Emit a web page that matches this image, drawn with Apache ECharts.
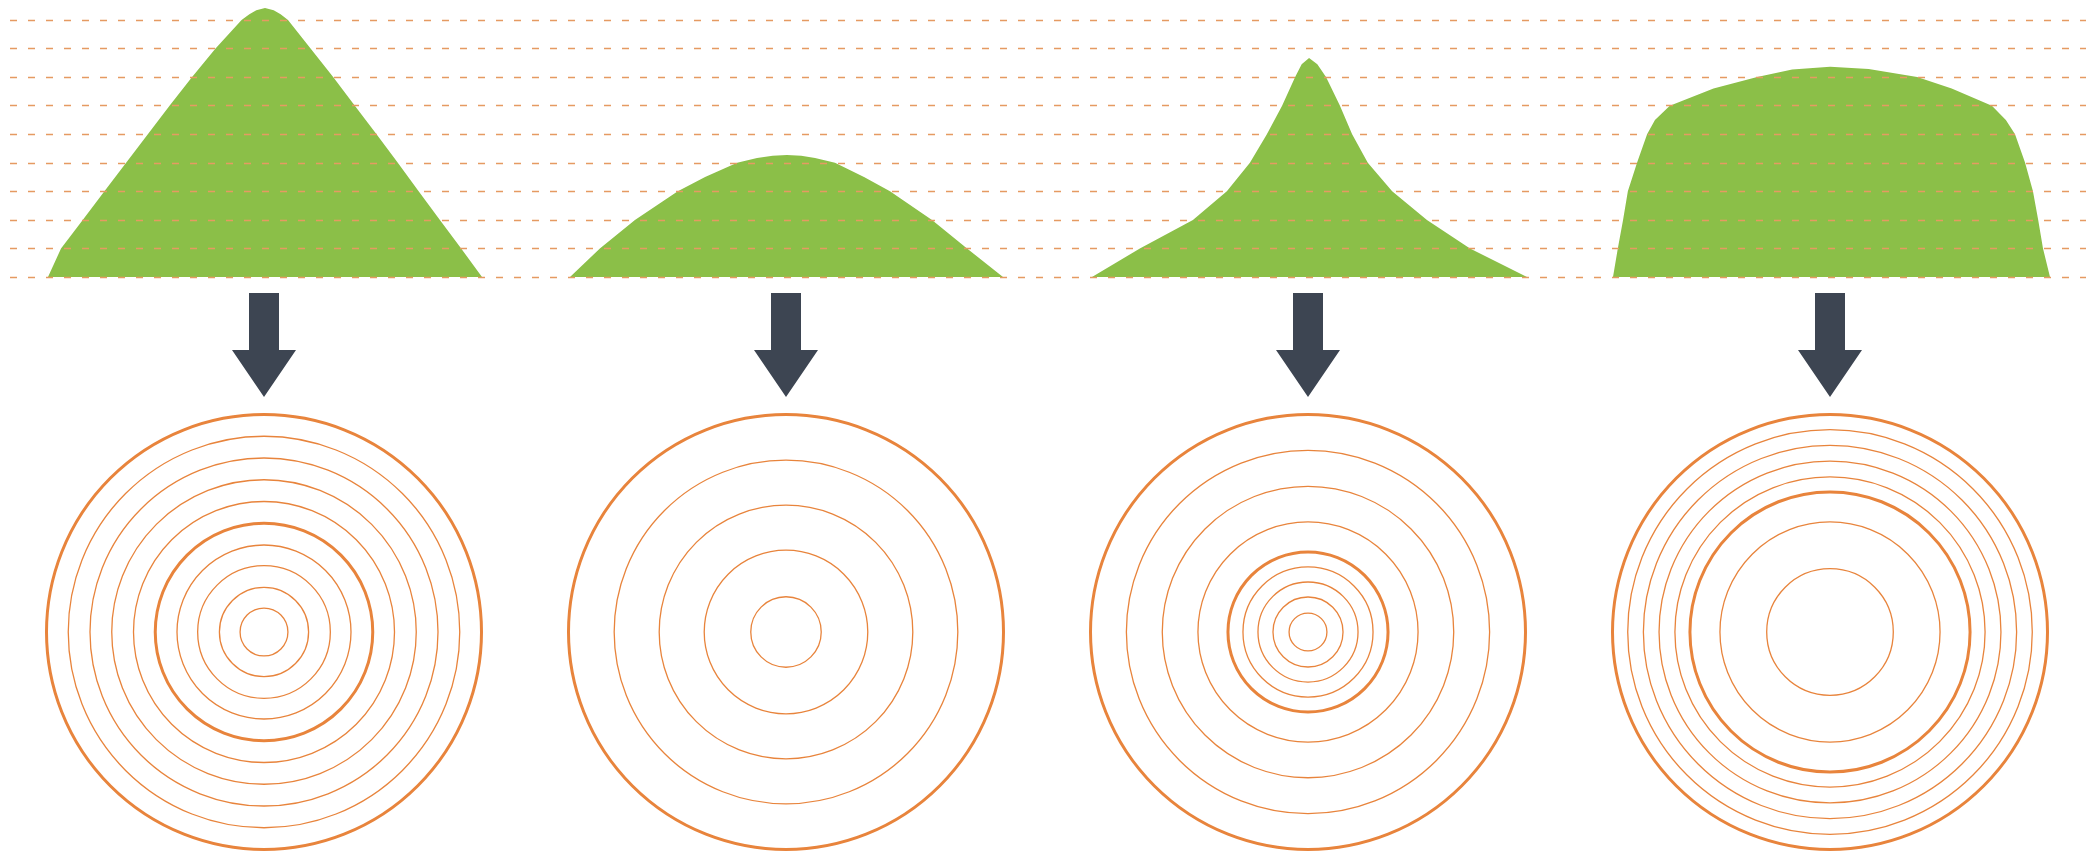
<!DOCTYPE html>
<html>
<head>
<meta charset="utf-8">
<script src="https://cdn.jsdelivr.net/npm/echarts@6/dist/echarts.min.js"></script>
<style>
  html, body { margin: 0; padding: 0; background: #ffffff; }
  #chart { width: 2086px; height: 851px; }
</style>
</head>
<body>
<div id="chart"></div>
<script>
// ---- Distribution shapes: [position across base (0-100), height in guide-line units] ----
const shapeA = [[0,0],[3.0,1],[8.0,2],[13.0,3],[18.0,4],[23.0,5],[28.0,6],[33.2,7],[38.6,8],[44.6,9],[46.4,9.2],[48.0,9.34],[50,9.42],[52.0,9.34],[53.6,9.2],[55.3,9],[60.5,8],[65.7,7],[70.7,6],[75.7,5],[80.6,4],[85.4,3],[90.3,2],[95.2,1],[100,0]];
const shapeB = [[0,0],[6.9,1],[15.0,2],[24.9,3],[31.2,3.5],[38.6,4],[43.2,4.17],[46.8,4.25],[50.1,4.27],[53.4,4.25],[56.6,4.17],[61.2,4],[67.9,3.5],[73.9,3],[83.6,2],[91.7,1],[100,0]];
const shapeC = [[0,0],[11.0,1],[23.2,2],[31.0,3],[36.3,4],[40.2,5],[43.7,6],[46.7,7],[48.2,7.45],[49.9,7.67],[51.8,7.45],[53.8,7],[57.0,6],[59.8,5],[63.4,4],[69.0,3],[77.0,2],[86.9,1],[100,0]];
const shapeD = [[0,0],[1.1,1],[2.3,2],[3.4,3],[5.5,4],[7.8,5],[9.6,5.5],[13.0,6],[23.0,6.6],[33.0,7],[41.0,7.27],[49.7,7.36],[58.5,7.28],[69.6,7],[77.5,6.6],[86.7,6],[89.9,5.5],[92.0,5],[94.3,4],[96.1,3],[97.3,2],[98.4,1],[100,0]];

// ---- Ring radii (outer ring = 10) and which rings are drawn heavy ----
const ringsA = [10, 9, 8, 7, 6, 5, 4, 3.05, 2.05, 1.1];
const thickA = [10, 5];
const ringsB = [10, 7.9, 5.83, 3.76, 1.62];
const thickB = [10];
const ringsC = [10, 8.35, 6.7, 5.06, 3.68, 2.99, 2.3, 1.61, 0.87];
const thickC = [10, 3.68];
const ringsD = [10, 9.3, 8.58, 7.86, 7.13, 6.44, 5.06, 2.91];
const thickD = [10, 6.44];

// ---- Guide lines (height levels) ----
const guideMin = 0;
const guideMax = 9;

const shapes = [shapeA, shapeB, shapeC, shapeD];
const rings = [ringsA, ringsB, ringsC, ringsD];
const thicks = [thickA, thickB, thickC, thickD];

// layout
const panelCenters = [264, 786, 1308, 1830];
const baseLefts = [48, 570, 1092, 1613];
const baseWidths = [434, 433, 435, 437];
const baseY = 277;            // pixel of level 0
const unitPx = 28.556;        // px per guide level
const ringR = 217.5;          // outer ring pixel radius
const ringCY = 632;

const GREEN = '#8bbf48';
const ORANGE = '#e8843c';
const DASH = '#e59a62';
const ARROW = '#3d4552';

const grids = [];
const xAxes = [];
const yAxes = [];
const series = [];

// grid 0: guide lines across whole width
grids.push({ left: 10, right: 0, top: baseY - guideMax * unitPx, bottom: 851 - baseY });
xAxes.push({ gridIndex: 0, type: 'value', min: 0, max: 1, show: false });
yAxes.push({
  gridIndex: 0, type: 'value', min: guideMin, max: guideMax, interval: 1, z: 6,
  axisLine: { show: false }, axisTick: { show: false }, axisLabel: { show: false },
  splitLine: { show: true, lineStyle: { color: DASH, width: 1.4, type: [7, 11] } }
});

const shapeTopVal = 9.5;
shapes.forEach((s, i) => {
  const gi = grids.length;
  grids.push({ left: baseLefts[i], width: baseWidths[i], top: baseY - shapeTopVal * unitPx, bottom: 851 - baseY });
  xAxes.push({ gridIndex: gi, type: 'value', min: 0, max: 100, show: false });
  yAxes.push({ gridIndex: gi, type: 'value', min: 0, max: shapeTopVal, show: false, splitLine: { show: false } });
  series.push({
    type: 'line', xAxisIndex: gi, yAxisIndex: gi, data: s,
    smooth: false, showSymbol: false, symbol: 'none', silent: true,
    lineStyle: { width: 0, color: GREEN }, areaStyle: { color: GREEN, opacity: 1 }, z: 2
  });
});

const arrowPath = 'path://M17,0 L47,0 L47,57 L64,57 L32,104 L0,57 L17,57 Z';

rings.forEach((rs, i) => {
  const gi = grids.length;
  grids.push({ left: panelCenters[i] - ringR, width: 2 * ringR, top: ringCY - ringR, height: 2 * ringR });
  xAxes.push({ gridIndex: gi, type: 'value', min: -10, max: 10, show: false });
  yAxes.push({ gridIndex: gi, type: 'value', min: -10, max: 10, show: false, splitLine: { show: false } });
  const th = thicks[i];
  series.push({
    type: 'custom', xAxisIndex: gi, yAxisIndex: gi, silent: true, clip: false,
    data: rs.map(r => [r, th.includes(r) ? 1 : 0]),
    renderItem: function (params, api) {
      const r = api.value(0);
      const heavy = api.value(1) === 1;
      const c = api.coord([0, 0]);
      const sz = api.size([r, r]);
      return {
        type: 'circle',
        shape: { cx: c[0], cy: c[1], r: sz[0] },
        style: { fill: 'none', stroke: ORANGE, lineWidth: heavy ? 3 : 1.3 }
      };
    }
  });
  series.push({
    type: 'scatter', xAxisIndex: gi, yAxisIndex: gi, silent: true, clip: false,
    data: [[0, 13.2]], symbol: arrowPath, symbolSize: [64, 104],
    itemStyle: { color: ARROW, opacity: 1 }
  });
});

const chart = echarts.init(document.getElementById('chart'), null, { renderer: 'canvas' });
chart.setOption({
  backgroundColor: '#ffffff',
  animation: false,
  grid: grids,
  xAxis: xAxes,
  yAxis: yAxes,
  series: series
});
</script>
</body>
</html>
